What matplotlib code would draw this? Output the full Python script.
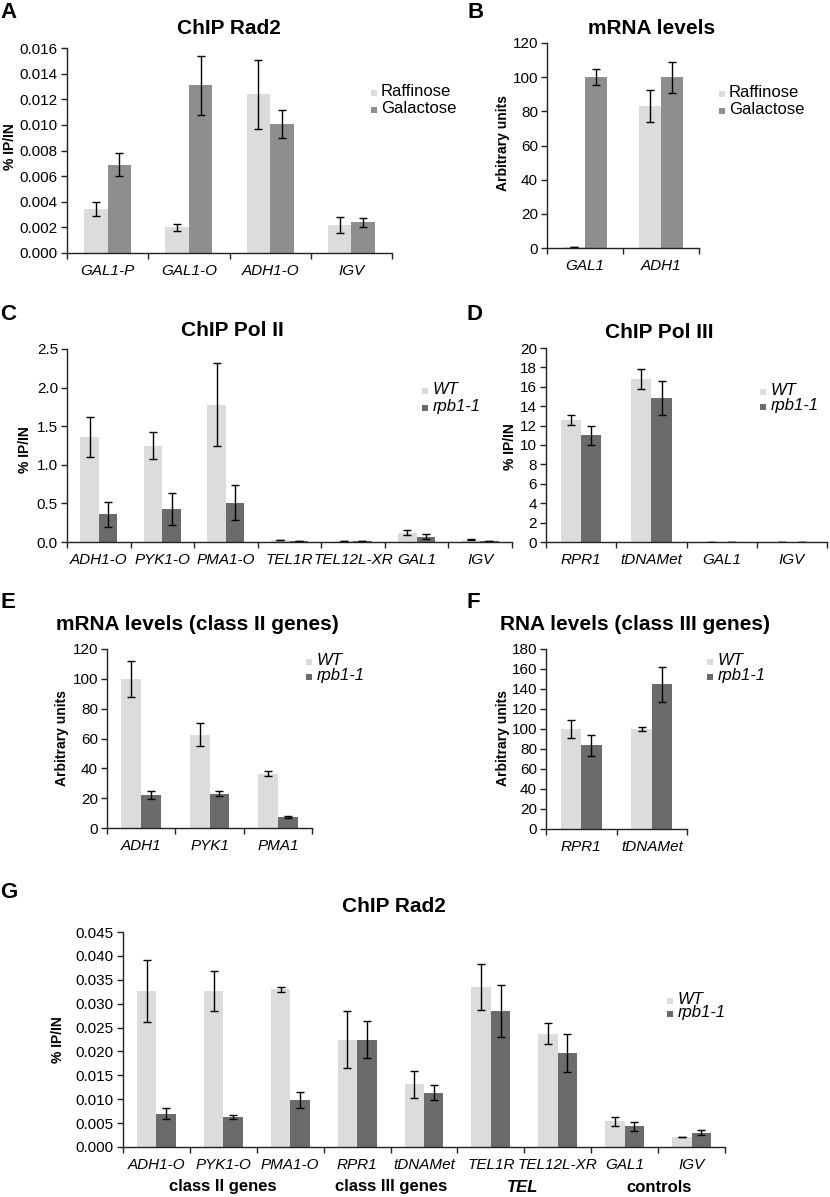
import matplotlib
matplotlib.use("Agg")
import matplotlib.pyplot as plt
from matplotlib.patches import Rectangle
from matplotlib.ticker import FixedLocator, FormatStrFormatter
import numpy as np

plt.rcParams['font.family'] = ['Liberation Sans', 'DejaVu Sans']

# ---------------- data ----------------
a_cats = ["GAL1-P", "GAL1-O", "ADH1-O", "IGV"]
a_raf = [0.0034, 0.0020, 0.0124, 0.0022]
a_raf_err = [0.00055, 0.00025, 0.0027, 0.0006]
a_gal = [0.0069, 0.0131, 0.0101, 0.0024]
a_gal_err = [0.0009, 0.0023, 0.0011, 0.00035]

b_cats = ["GAL1", "ADH1"]
b_raf = [0.8, 83]
b_raf_err = [0.0, 9.5]
b_gal = [100, 100]
b_gal_err = [4.5, 9]

c_cats = ["ADH1-O", "PYK1-O", "PMA1-O", "TEL1R", "TEL12L-XR", "GAL1", "IGV"]
c_wt = [1.36, 1.25, 1.78, 0.02, 0.01, 0.12, 0.03]
c_wt_err = [0.265, 0.175, 0.535, 0.0, 0.0, 0.03, 0.01]
c_mut = [0.36, 0.43, 0.51, 0.01, 0.01, 0.07, 0.01]
c_mut_err = [0.16, 0.205, 0.23, 0.0, 0.0, 0.03, 0.0]

d_cats = ["RPR1", "tDNAMet", "GAL1", "IGV"]
d_wt = [12.6, 16.8, 0.05, 0.05]
d_wt_err = [0.5, 1.0, 0.0, 0.0]
d_mut = [11.0, 14.8, 0.05, 0.05]
d_mut_err = [1.0, 1.75, 0.0, 0.0]

e_cats = ["ADH1", "PYK1", "PMA1"]
e_wt = [100, 62.5, 36.5]
e_wt_err = [12, 7.8, 1.5]
e_mut = [22, 23, 7.5]
e_mut_err = [2.5, 1.8, 0.5]

f_cats = ["RPR1", "tDNAMet"]
f_wt = [100, 100]
f_wt_err = [9, 2]
f_mut = [84, 145]
f_mut_err = [10.5, 17.5]

g_cats = ["ADH1-O", "PYK1-O", "PMA1-O", "RPR1", "tDNAMet",
          "TEL1R", "TEL12L-XR", "GAL1", "IGV"]
g_wt = [0.0326, 0.0326, 0.0330, 0.0225, 0.0131, 0.0335, 0.0237, 0.0054, 0.0021]
g_wt_err = [0.0065, 0.0042, 0.0005, 0.0060, 0.0029, 0.0048, 0.0022, 0.0009, 0.00005]
g_mut = [0.0070, 0.0062, 0.0099, 0.0225, 0.0114, 0.0285, 0.0197, 0.0043, 0.0030]
g_mut_err = [0.0012, 0.0004, 0.0017, 0.0038, 0.0015, 0.0055, 0.0040, 0.0009, 0.0005]
g_groups = ["class II genes", "class III genes", "TEL", "controls"]

sugar_labels = ["Raffinose", "Galactose"]
strain_labels = ["WT", "rpb1-1"]

# ---------------- style ----------------
LIGHT = "#dcdcdc"
MID = "#8e8e8e"
DARK = "#6b6b6b"
W, H = 830, 1197
fig = plt.figure(figsize=(W / 100, H / 100), dpi=100)


def add_ax(l, t, r, b):
    return fig.add_axes([l / W, 1 - b / H, (r - l) / W, (b - t) / H])


def fx(x):
    return x / W


def fy(y):
    return 1 - y / H


def bar_panel(ax, cats, s1, e1, s2, e2, c1, c2, ylim, yticks, fmt):
    n = len(cats)
    x = np.arange(n) + 0.5
    bw = 0.29
    ax.bar(x - bw / 2, s1, bw, color=c1, zorder=2)
    ax.bar(x + bw / 2, s2, bw, color=c2, zorder=2)
    ekw = dict(fmt="none", ecolor="black", elinewidth=1.0, capsize=2.8,
               capthick=1.0, zorder=3)
    ax.errorbar(x - bw / 2, s1, yerr=e1, **ekw)
    ax.errorbar(x + bw / 2, s2, yerr=e2, **ekw)
    ax.set_xlim(0, n)
    ax.set_ylim(*ylim)
    ax.yaxis.set_major_locator(FixedLocator(yticks))
    ax.yaxis.set_major_formatter(FormatStrFormatter(fmt))
    ax.set_xticks(x)
    ax.set_xticklabels(cats, fontstyle="italic", fontsize=11)
    ax.set_xticks(np.arange(n + 1), minor=True)
    ax.tick_params(axis="x", which="major", length=0, pad=8)
    ax.tick_params(axis="x", which="minor", length=4, width=1, direction="out",
                   color="#222222")
    ax.tick_params(axis="y", length=4, width=1, direction="out", labelsize=11,
                   color="#222222", pad=2.5)
    for s in ["top", "right"]:
        ax.spines[s].set_visible(False)
    for s in ["left", "bottom"]:
        ax.spines[s].set_color("#222222")
        ax.spines[s].set_linewidth(1.0)
        ax.spines[s].set_zorder(4)
    ax.set_facecolor("none")


def legend(labels, colors, mx, tx, baselines, italic, fs=12):
    sz = 6
    for lab, col, yb in zip(labels, colors, baselines):
        fig.add_artist(Rectangle((fx(mx), fy(yb)), sz / W, sz / H,
                                 transform=fig.transFigure, facecolor=col,
                                 edgecolor="none"))
        fig.text(fx(tx), fy(yb), lab, ha="left", va="baseline", fontsize=fs,
                 fontstyle="italic" if italic else "normal")


def title(x, y, s, fs=15):
    fig.text(fx(x), fy(y), s, ha="center", va="center", fontsize=fs,
             fontweight="bold")


def letter(x, y, s):
    fig.text(fx(x), fy(y), s, ha="left", va="center", fontsize=16,
             fontweight="bold")


def ylab(x, y, s, fs=10):
    fig.text(fx(x), fy(y), s, ha="center", va="center", rotation=90,
             fontsize=fs, fontweight="bold")


# ---------------- panel A ----------------
axA = add_ax(67, 48, 392, 253)
bar_panel(axA, a_cats, a_raf, a_raf_err, a_gal, a_gal_err, LIGHT, MID,
          (0, 0.016), np.arange(0, 0.0161, 0.002), "%.3f")
legend(sugar_labels, [LIGHT, MID], 371, 381, [96, 113], False)
title(229, 28, "ChIP Rad2")
letter(0, 12, "A")
ylab(10, 147, "% IP/IN")

# ---------------- panel B ----------------
axB = add_ax(547, 43, 699, 248)
bar_panel(axB, b_cats, b_raf, b_raf_err, b_gal, b_gal_err, LIGHT, MID,
          (0, 120), np.arange(0, 121, 20), "%d")
legend(sugar_labels, [LIGHT, MID], 719, 729, [97, 114], False)
title(652, 28, "mRNA levels")
letter(467, 12, "B")
ylab(503, 143, "Arbitrary units")

# ---------------- panel C ----------------
axC = add_ax(67, 349, 512, 542)
bar_panel(axC, c_cats, c_wt, c_wt_err, c_mut, c_mut_err, LIGHT, DARK,
          (0, 2.5), np.arange(0, 2.51, 0.5), "%.1f")
legend(strain_labels, [LIGHT, DARK], 422, 433, [394, 411], True)
title(232, 330, "ChIP Pol II")
letter(0, 315, "C")
ylab(25, 450, "% IP/IN")

# ---------------- panel D ----------------
axD = add_ax(546, 348, 827, 542)
bar_panel(axD, d_cats, d_wt, d_wt_err, d_mut, d_mut_err, LIGHT, DARK,
          (0, 20), np.arange(0, 20.1, 2), "%d")
legend(strain_labels, [LIGHT, DARK], 760, 771, [395, 410], True)
title(659, 332, "ChIP Pol III")
letter(466, 315, "D")
ylab(510, 447, "% IP/IN")

# ---------------- panel E ----------------
axE = add_ax(107, 649, 312, 828)
bar_panel(axE, e_cats, e_wt, e_wt_err, e_mut, e_mut_err, LIGHT, DARK,
          (0, 120), np.arange(0, 121, 20), "%d")
legend(strain_labels, [LIGHT, DARK], 306, 317, [665, 680], True)
title(197, 624, "mRNA levels (class II genes)")
letter(0, 603, "E")
ylab(62, 738, "Arbitrary units")

# ---------------- panel F ----------------
axF = add_ax(546, 649, 687, 829)
bar_panel(axF, f_cats, f_wt, f_wt_err, f_mut, f_mut_err, LIGHT, DARK,
          (0, 180), np.arange(0, 181, 20), "%d")
legend(strain_labels, [LIGHT, DARK], 707, 718, [665, 680], True)
title(635, 625, "RNA levels (class III genes)")
letter(466, 603, "F")
ylab(503, 738, "Arbitrary units")

# ---------------- panel G ----------------
axG = add_ax(123, 932, 725, 1147)
bar_panel(axG, g_cats, g_wt, g_wt_err, g_mut, g_mut_err, LIGHT, DARK,
          (0, 0.045), np.arange(0, 0.0451, 0.005), "%.3f")
legend(strain_labels, [LIGHT, DARK], 667, 678, [1004, 1017], True)
title(394, 907, "ChIP Rad2")
letter(0, 892, "G")
ylab(58, 1040, "% IP/IN")
grp_x = [223, 391, 523, 659]
for gx, gs in zip(grp_x, g_groups):
    fig.text(fx(gx), fy(1187), gs, ha="center", va="center", fontsize=12,
             fontweight="bold", fontstyle="italic" if gs == "TEL" else "normal")

fig.savefig("out.png", dpi=100)
